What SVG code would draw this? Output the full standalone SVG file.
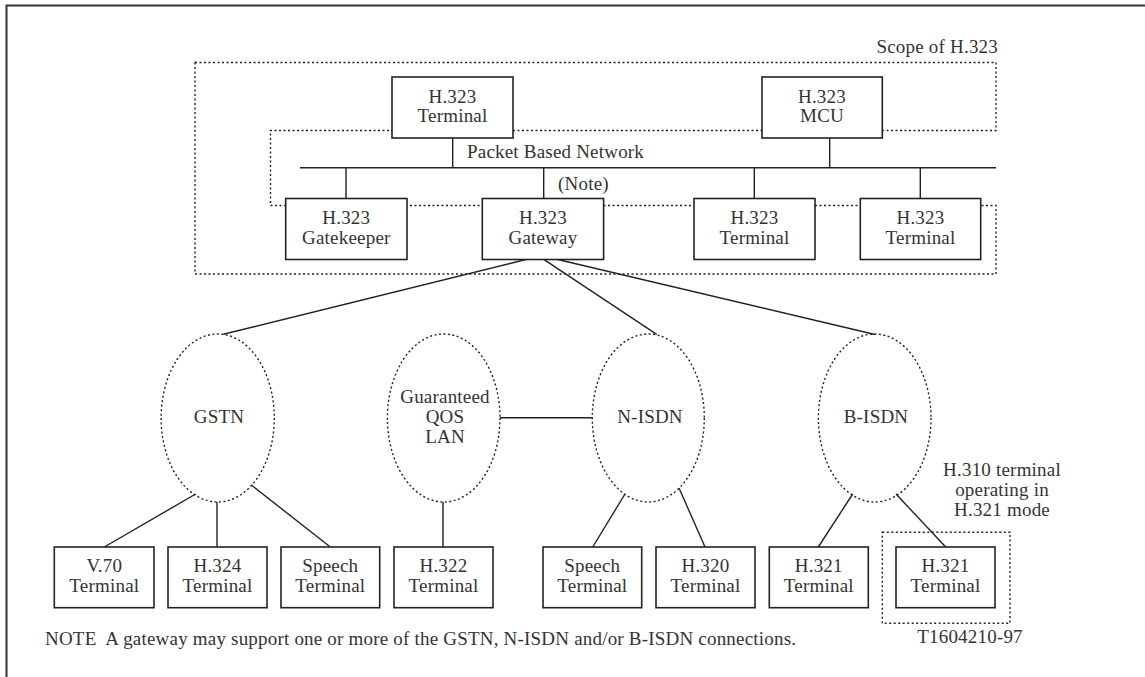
<svg xmlns="http://www.w3.org/2000/svg" width="1145" height="677" viewBox="0 0 1145 677">
<style>
text{font-family:"Liberation Serif","Times New Roman",serif;font-size:19px;letter-spacing:0.2px;fill:#333;text-anchor:middle}
.box{fill:#fff;stroke:#222;stroke-width:1.6}
.dot{fill:none;stroke:#222;stroke-width:1.4;stroke-dasharray:2 2.5}
.ln{stroke:#222;stroke-width:1.4;fill:none}
.l{text-anchor:start}
</style>
<rect width="1145" height="677" fill="#fff"/>
<path d="M6.5,677 V5.5 H1145" fill="none" stroke="#333" stroke-width="2"/>
<g id="scope">
<path class="dot" d="M195,62.5 H996 V130.5 H270.5 V205.5 H996 V274 H195 Z"/>
<text x="998" y="53" style="text-anchor:end">Scope of H.323</text>
</g>
<g id="connectors">
<line class="ln" x1="300" y1="167.7" x2="996" y2="167.7"/>
<line class="ln" x1="452.7" y1="138" x2="452.7" y2="167.7"/>
<line class="ln" x1="829.7" y1="138" x2="829.7" y2="167.7"/>
<line class="ln" x1="346" y1="167.7" x2="346" y2="198.5"/>
<line class="ln" x1="543.7" y1="167.7" x2="543.7" y2="198.5"/>
<line class="ln" x1="754.3" y1="167.7" x2="754.3" y2="198.5"/>
<line class="ln" x1="920.3" y1="167.7" x2="920.3" y2="198.5"/>
<line class="ln" x1="526.7" y1="259.3" x2="223.3" y2="334.3"/>
<line class="ln" x1="543.7" y1="259.3" x2="656.7" y2="334.3"/>
<line class="ln" x1="556.7" y1="259.3" x2="875" y2="334.5"/>
<line class="ln" x1="500" y1="417.7" x2="592.3" y2="417.7"/>
<line class="ln" x1="195.7" y1="494" x2="104.3" y2="547"/>
<line class="ln" x1="217" y1="502" x2="217" y2="547"/>
<line class="ln" x1="251.3" y1="485" x2="330.3" y2="547"/>
<line class="ln" x1="443" y1="502" x2="443" y2="547"/>
<line class="ln" x1="625" y1="494" x2="592.7" y2="547"/>
<line class="ln" x1="679" y1="488" x2="705" y2="547"/>
<line class="ln" x1="852.7" y1="494" x2="818.3" y2="547"/>
<line class="ln" x1="896" y1="494" x2="945.7" y2="547"/>
<text x="467" y="158" class="l">Packet Based Network</text>
<text x="558" y="190" class="l">(Note)</text>
</g>
<g id="t1"><rect class="box" x="392" y="77" width="121" height="61"/><text x="452.5" y="102.7">H.323</text><text x="452.5" y="122.3">Terminal</text></g>
<g id="mcu"><rect class="box" x="762" y="77" width="120.3" height="61"/><text x="822" y="102.7">H.323</text><text x="822" y="122.3">MCU</text></g>
<g id="gk"><rect class="box" x="285.7" y="198.5" width="121.3" height="61"/><text x="346.3" y="224.3">H.323</text><text x="346.3" y="243.8">Gatekeeper</text></g>
<g id="gw"><rect class="box" x="482.3" y="198.5" width="121.3" height="61"/><text x="543" y="224.3">H.323</text><text x="543" y="243.8">Gateway</text></g>
<g id="t3"><rect class="box" x="694" y="198.5" width="121" height="61"/><text x="754.5" y="224.3">H.323</text><text x="754.5" y="243.8">Terminal</text></g>
<g id="t4"><rect class="box" x="860.3" y="198.5" width="120.4" height="61"/><text x="920.5" y="224.3">H.323</text><text x="920.5" y="243.8">Terminal</text></g>
<g id="gstn"><ellipse class="dot" cx="217.7" cy="418" rx="56.6" ry="84"/><text x="219" y="423">GSTN</text></g>
<g id="lan"><ellipse class="dot" cx="443.7" cy="418" rx="56.3" ry="84"/><text x="445" y="403">Guaranteed</text><text x="445" y="423">QOS</text><text x="445" y="442.5">LAN</text></g>
<g id="nisdn"><ellipse class="dot" cx="648.3" cy="418" rx="56" ry="84"/><text x="650" y="423">N-ISDN</text></g>
<g id="bisdn"><ellipse class="dot" cx="874.7" cy="418" rx="56.3" ry="84"/><text x="876" y="423">B-ISDN</text></g>
<g id="v70"><rect class="box" x="54.3" y="547" width="99.7" height="60.7"/><text x="104.3" y="571.7">V.70</text><text x="104.3" y="591.7">Terminal</text></g>
<g id="h324"><rect class="box" x="168" y="547" width="99" height="60.7"/><text x="217.5" y="571.7">H.324</text><text x="217.5" y="591.7">Terminal</text></g>
<g id="sp1"><rect class="box" x="281" y="547" width="98.7" height="60.7"/><text x="330.3" y="571.7">Speech</text><text x="330.3" y="591.7">Terminal</text></g>
<g id="h322"><rect class="box" x="394" y="547" width="99" height="60.7"/><text x="443.5" y="571.7">H.322</text><text x="443.5" y="591.7">Terminal</text></g>
<g id="sp2"><rect class="box" x="543" y="547" width="98.7" height="60.7"/><text x="592.3" y="571.7">Speech</text><text x="592.3" y="591.7">Terminal</text></g>
<g id="h320"><rect class="box" x="656" y="547" width="99" height="60.7"/><text x="705.5" y="571.7">H.320</text><text x="705.5" y="591.7">Terminal</text></g>
<g id="h321a"><rect class="box" x="769.3" y="547" width="99" height="60.7"/><text x="818.8" y="571.7">H.321</text><text x="818.8" y="591.7">Terminal</text></g>
<g id="h321b"><rect class="dot" x="882.3" y="532.3" width="127.7" height="91"/><rect class="box" x="896" y="547" width="99" height="60.7"/><text x="945.5" y="571.7">H.321</text><text x="945.5" y="591.7">Terminal</text>
<text x="1002" y="476">H.310 terminal</text><text x="1002" y="496">operating in</text><text x="1002" y="516">H.321 mode</text></g>
<text x="45" y="645" class="l">NOTE&#160; A gateway may support one or more of the GSTN, N-ISDN and/or B-ISDN connections.</text>
<text x="970" y="643">T1604210-97</text>
</svg>
